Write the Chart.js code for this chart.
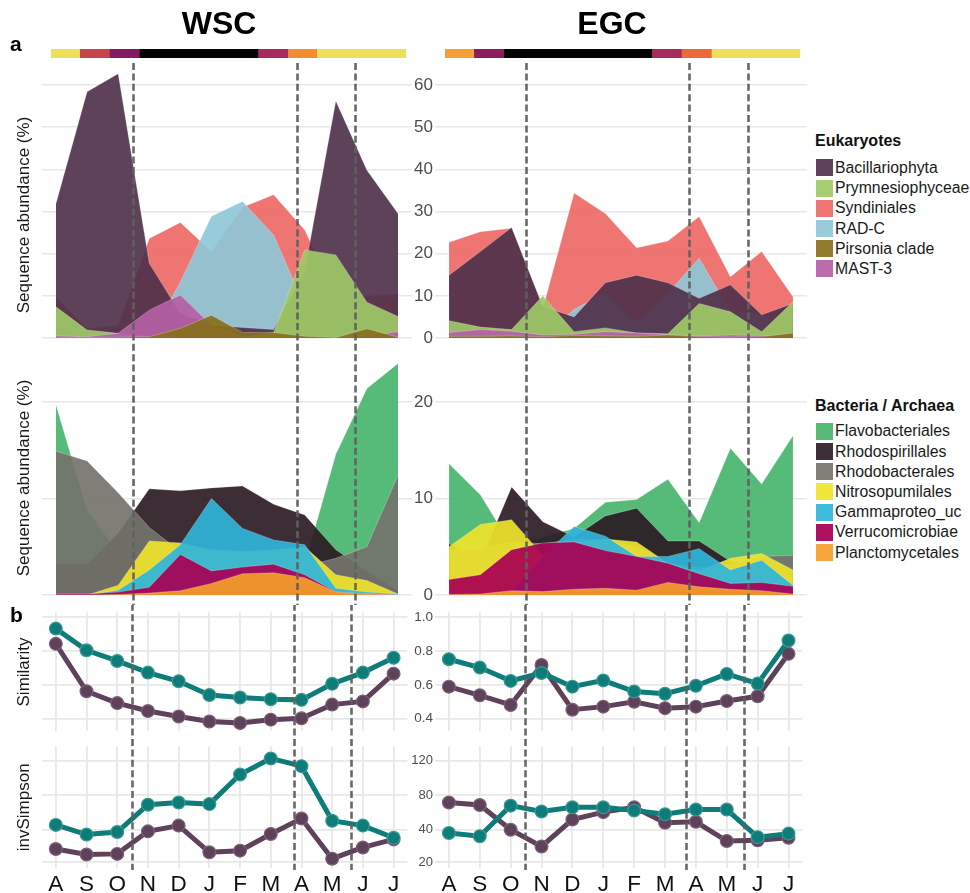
<!DOCTYPE html>
<html>
<head>
<meta charset="utf-8">
<script src="https://cdn.jsdelivr.net/npm/chart.js@4.4.1/dist/chart.umd.min.js"></script>
<style>
  html, body { margin: 0; padding: 0; background: #fff; }
  body { width: 970px; height: 893px; overflow: hidden; position: relative;
         font-family: "Liberation Sans", Arial, sans-serif; color: #1a1a1a; }
  canvas { position: absolute; }
  .lbl { position: absolute; line-height: 1; white-space: nowrap; }
  .bold { font-weight: bold; color: #000; }
  .key { position: absolute; width: 17px; height: 17px; }
</style>
</head>
<body>
<script>
// ---------- sampling months ----------
const months = ['A', 'S', 'O', 'N', 'D', 'J', 'F', 'M', 'A', 'M', 'J', 'J'];

// ---------- eukaryote taxa (sequence abundance, %) ----------
const eukTaxa = ['Bacillariophyta', 'Prymnesiophyceae', 'Syndiniales', 'RAD-C', 'Pirsonia clade', 'MAST-3'];

const wscBacillariophyta  = [31.9, 58.4, 62.7, 17.7, 5.8, 3.0, 2.5, 2.0, 16.0, 56.2, 39.8, 29.5];
const wscPrymnesiophyceae = [7.4, 1.9, 1.1, 0.4, 0.1, 0.1, 0.1, 1.3, 20.9, 19.7, 8.5, 5.1];
const wscSyndiniales      = [9.8, 2.3, 3.1, 23.6, 27.4, 20.5, 31.0, 34.0, 25.6, 10.0, 10.0, 10.5];
const wscRADC             = [0, 0, 0, 0, 13.3, 28.9, 32.4, 24.4, 7.5, 0.3, 0, 0];
const wscPirsonia         = [0.1, 0.1, 0.2, 0.3, 2.3, 5.4, 1.3, 1.3, 0.4, 0.1, 2.2, 0.2];
const wscMAST3            = [0.5, 0.3, 1.1, 6.6, 10.2, 3.0, 0.3, 0.2, 0.1, 0.1, 0.5, 1.5];

const egcBacillariophyta  = [14.9, 20.5, 26.2, 7.5, 5.0, 13.1, 14.9, 13.1, 9.4, 12.6, 5.5, 8.2];
const egcPrymnesiophyceae = [4.1, 2.6, 2.0, 10.0, 1.5, 2.4, 1.2, 1.0, 8.2, 6.2, 1.5, 8.6];
const egcSyndiniales      = [22.7, 25.2, 26.0, 7.0, 34.4, 29.5, 21.4, 23.0, 28.8, 14.5, 20.5, 9.8];
const egcRADC             = [0, 0, 0, 0, 6.8, 10.6, 3.5, 10.6, 18.9, 6.2, 5.5, 0.3];
const egcPirsonia         = [0.4, 0.4, 0.5, 0.3, 0.6, 0.5, 0.4, 0.7, 0.3, 0.2, 0.3, 1.2];
const egcMAST3            = [1.3, 2.0, 1.6, 0.7, 0.9, 1.5, 1.2, 0.8, 0.5, 0.7, 0.6, 0.4];

// ---------- bacteria / archaea taxa (sequence abundance, %) ----------
const bacTaxa = ['Flavobacteriales', 'Rhodospirillales', 'Rhodobacterales', 'Nitrosopumilales',
                 'Gammaproteo_uc', 'Verrucomicrobiae', 'Planctomycetales'];

const wscFlavobacteriales  = [19.7, 8.8, 4.4, 3.5, 2.5, 2.3, 2.2, 2.0, 3.2, 14.6, 21.4, 24.0];
const wscRhodospirillales  = [3.3, 3.3, 6.4, 11.0, 10.8, 11.1, 11.3, 9.4, 8.3, 4.7, 2.5, 0.5];
const wscRhodobacterales   = [14.9, 13.9, 10.6, 7.0, 4.5, 3.5, 3.2, 3.0, 3.0, 3.8, 5.0, 12.4];
const wscNitrosopumilales  = [0.0, 0.0, 1.0, 5.6, 5.4, 4.7, 4.5, 4.7, 5.0, 2.1, 1.5, 0.1];
const wscGammaproteo       = [0.0, 0.0, 0.5, 2.6, 5.2, 10.0, 6.9, 5.7, 5.2, 0.7, 0.3, 0.1];
const wscVerrucomicrobiae  = [0.1, 0.1, 0.3, 0.8, 4.2, 2.5, 2.9, 3.2, 2.1, 0.3, 0.1, 0.0];
const wscPlanctomycetales  = [0.0, 0.0, 0.05, 0.2, 0.45, 1.2, 2.2, 2.3, 1.8, 0.3, 0.1, 0.0];

const egcFlavobacteriales  = [13.6, 10.4, 5.1, 6.0, 6.9, 9.6, 9.9, 12.0, 7.5, 15.2, 11.5, 16.5];
const egcRhodospirillales  = [5.3, 3.5, 11.2, 7.6, 6.0, 8.2, 9.0, 5.6, 5.6, 3.5, 3.0, 2.0];
const egcRhodobacterales   = [4.6, 4.8, 5.5, 5.3, 5.8, 5.7, 5.0, 3.3, 2.8, 3.2, 4.0, 4.1];
const egcNitrosopumilales  = [5.0, 7.3, 7.8, 4.1, 5.5, 5.8, 5.5, 3.3, 2.5, 3.8, 4.3, 2.6];
const egcGammaproteo       = [0.0, 0.0, 0.5, 4.0, 7.1, 6.1, 4.0, 4.0, 4.8, 2.6, 3.6, 1.0];
const egcVerrucomicrobiae  = [1.6, 2.1, 4.7, 5.4, 5.5, 4.6, 4.0, 3.3, 2.2, 1.2, 1.3, 0.9];
const egcPlanctomycetales  = [0.05, 0.1, 0.45, 0.35, 0.6, 0.7, 0.5, 1.3, 0.85, 0.6, 0.45, 0.1];

// ---------- community similarity and inverse Simpson diversity ----------
const wscSimTeal   = [0.932, 0.804, 0.741, 0.672, 0.621, 0.540, 0.525, 0.515, 0.511, 0.606, 0.672, 0.760];
const wscSimPurple = [0.842, 0.562, 0.492, 0.445, 0.413, 0.383, 0.374, 0.394, 0.402, 0.483, 0.502, 0.666];
const egcSimTeal   = [0.751, 0.702, 0.623, 0.670, 0.589, 0.626, 0.560, 0.547, 0.594, 0.664, 0.607, 0.862];
const egcSimPurple = [0.589, 0.538, 0.481, 0.717, 0.453, 0.471, 0.500, 0.462, 0.471, 0.504, 0.532, 0.783];

const wscInvTeal   = [45.6, 37.0, 38.6, 68.9, 71.4, 69.6, 103.9, 122.7, 113.7, 50.3, 44.8, 35.0];
const wscInvPurple = [28.0, 24.6, 25.0, 39.0, 44.8, 26.0, 27.0, 37.4, 52.9, 22.0, 29.0, 34.0];
const egcInvTeal   = [38.0, 36.0, 67.8, 61.1, 65.9, 65.9, 62.2, 57.8, 63.3, 63.3, 35.4, 37.6];
const egcInvPurple = [71.4, 68.5, 40.0, 29.6, 51.8, 60.3, 65.9, 48.1, 49.2, 33.0, 33.4, 35.0];

// ---------- axis ticks ----------
const eukTicks = [0, 10, 20, 30, 40, 50, 60];
const bacTicks = [0, 10, 20];
const simTicks = [0.4, 0.6, 0.8, 1.0];
const invTicks = [20, 40, 80, 120];

// ---------- season bands (month index edges) and event dates ----------
const wscSeasonEdges  = [-0.16, 0.77, 1.73, 2.69, 6.51, 7.47, 8.4, 11.25];
const wscSeasonColors = ['#EDE15A', '#C9444C', '#861A61', '#050505', '#A82A5C', '#F38C2F', '#EDE15A'];
const egcSeasonEdges  = [-0.13, 0.80, 1.76, 6.5, 7.44, 8.4, 11.22];
const egcSeasonColors = ['#F5A034', '#8C1D5C', '#050505', '#A82A5C', '#EB693A', '#EDE15A'];
const wscEvents = [2.49, 7.76, 9.61];
const egcEvents = [2.46, 7.69, 9.57];

// ---------- styling ----------
const FONT = '"Liberation Sans", Arial, sans-serif';
Chart.defaults.font.family = FONT;
Chart.defaults.color = '#4d4d4d';

const taxonColor = {
  'Bacillariophyta': '#5E4259', 'Prymnesiophyceae': '#A6CD72', 'Syndiniales': '#EF7572',
  'RAD-C': '#98CCDA', 'Pirsonia clade': '#917B2E', 'MAST-3': '#BA6CAC',
  'Flavobacteriales': '#57BB78', 'Rhodospirillales': '#3E2E36', 'Rhodobacterales': '#7F7F77',
  'Nitrosopumilales': '#F0E63C', 'Gammaproteo_uc': '#40BBDE', 'Verrucomicrobiae': '#AF1062',
  'Planctomycetales': '#F5A53A'
};
// back-to-front layering of the overlapping areas
const eukLayering = ['Syndiniales', 'RAD-C', 'Bacillariophyta', 'Prymnesiophyceae', 'MAST-3', 'Pirsonia clade'];
const bacLayering = bacTaxa;

const TEAL = '#0E7C78', TEAL_RING = '#3A9994';
const PURPLE = '#5E4259', PURPLE_RING = '#7D6178';
const GRID = '#E8E8E8';

// colour that shows as `hex` on white when painted with opacity a
function seeThrough(hex, a) {
  const n = parseInt(hex.slice(1), 16);
  const ch = [(n >> 16) & 255, (n >> 8) & 255, n & 255].map(c => Math.max(0, Math.round((c - (1 - a) * 255) / a)));
  return `rgba(${ch[0]},${ch[1]},${ch[2]},${a})`;
}

// ---------- inverse Simpson axis: spacing follows the panel's gridlines ----------
const invKnots = [[20, 0], [40, 33.4], [80, 69.4], [120, 105]];
function warp(v) {
  const k = invKnots, n = k.length;
  let i = 1;
  while (i < n - 1 && v > k[i][0]) i++;
  const [a0, b0] = k[i - 1], [a1, b1] = k[i];
  return b0 + (v - a0) * (b1 - b0) / (a1 - a0);
}
function unwarp(w) {
  const k = invKnots, n = k.length;
  let i = 1;
  while (i < n - 1 && w > k[i][1]) i++;
  const [a0, b0] = k[i - 1], [a1, b1] = k[i];
  return a0 + (w - b0) * (a1 - a0) / (b1 - b0);
}
class WarpScale extends Chart.LinearScale {
  getPixelForValue(value) {
    const lo = warp(this.min), hi = warp(this.max);
    return this.getPixelForDecimal((warp(value) - lo) / (hi - lo));
  }
  getValueForPixel(pixel) {
    const lo = warp(this.min), hi = warp(this.max);
    return unwarp(lo + this.getDecimalForPixel(pixel) * (hi - lo));
  }
}
WarpScale.id = 'warp';
WarpScale.defaults = Chart.LinearScale.defaults;
Chart.register(WarpScale);

// ---------- plugins: season band and dashed event lines ----------
const seasonBand = {
  id: 'seasonBand',
  afterDraw(chart, args, o) {
    if (!o.edges) return;
    const ctx = chart.ctx, xs = chart.scales.x;
    ctx.save();
    for (let i = 0; i < o.colors.length; i++) {
      const x0 = xs.getPixelForValue(o.edges[i]), x1 = xs.getPixelForValue(o.edges[i + 1]);
      ctx.fillStyle = o.colors[i];
      ctx.fillRect(x0, o.y, x1 - x0 + 0.4, o.h);
    }
    ctx.restore();
  }
};
const eventLines = {
  id: 'eventLines',
  afterDatasetsDraw(chart, args, o) {
    if (!o.dates) return;
    const ctx = chart.ctx, xs = chart.scales.x;
    ctx.save();
    ctx.strokeStyle = 'rgba(96,96,96,0.95)';
    ctx.lineWidth = 2.6;
    ctx.setLineDash([7, 3.4]);
    ctx.lineDashOffset = o.offset;
    o.dates.forEach(d => {
      const x = Math.round(xs.getPixelForValue(d)) + 0.5;
      ctx.beginPath();
      ctx.moveTo(x, o.y0);
      ctx.lineTo(x, o.y1);
      ctx.stroke();
    });
    ctx.restore();
  }
};
Chart.register(seasonBand, eventLines);

// ---------- layout ----------
const COLS = {
  wsc: { left: 0,   width: 415, axisW: 42, padR: 3, events: wscEvents, edges: wscSeasonEdges, colors: wscSeasonColors, labels: false },
  egc: { left: 395, width: 415, axisW: 40, padR: 3, events: egcEvents, edges: egcSeasonEdges, colors: egcSeasonColors, labels: true }
};
const DASH_TOP = 63, DASH_BOTTOM = 870;

function addCanvas(left, top, w, h) {
  const c = document.createElement('canvas');
  c.width = w; c.height = h;
  c.style.left = left + 'px'; c.style.top = top + 'px';
  c.style.width = w + 'px'; c.style.height = h + 'px';
  document.body.appendChild(c);
  return c;
}
const fixedTicks = vals => scale => { scale.ticks = vals.map(v => ({ value: v })); };
const pts = arr => arr.map((v, i) => ({ x: i, y: v }));

function makePanel(col, row) {
  const C = COLS[col];
  const cv = addCanvas(C.left, row.top, C.width, row.height);
  const xAxis = {
    type: 'linear', min: -0.45, max: 11.45,
    display: row.xGrid ? true : false,
    afterBuildTicks: fixedTicks(months.map((m, i) => i)),
    afterFit: s => { s.height = row.xAxisH || 0; s.paddingLeft = 0; s.paddingRight = 0; },
    grid: { color: GRID, lineWidth: 1.8, drawTicks: false },
    border: { display: false },
    ticks: {
      display: !!row.xLabels, autoSkip: false, maxRotation: 0, padding: 3,
      color: '#111', font: { size: 22.5 },
      callback: v => months[Math.round(v)]
    }
  };
  const yAxis = {
    type: row.warp ? 'warp' : 'linear', min: row.yMin, max: row.yMax,
    afterBuildTicks: fixedTicks(row.ticks),
    afterFit: s => { s.width = C.axisW; s.paddingTop = 0; s.paddingBottom = 0; },
    grid: { color: GRID, lineWidth: row.gridW, drawTicks: false },
    border: { display: false },
    ticks: {
      display: C.labels, padding: 2, color: '#4d4d4d', font: { size: row.tickSize },
      callback: row.fmt || (v => String(v))
    },
    title: {
      display: !C.labels && !!row.title, text: row.title, color: '#1a1a1a',
      font: { size: 17 }, padding: { top: 14, bottom: 0 }
    }
  };
  const y0 = row.band ? DASH_TOP - row.top : 0;
  const y1 = Math.min(row.height, DASH_BOTTOM - row.top, row.dashEnd ? row.dashEnd - row.top : 1e9);
  return new Chart(cv, {
    type: 'line',
    data: { datasets: row.datasets(col) },
    options: {
      responsive: false, animation: false, events: [],
      layout: { padding: { top: row.padTop, bottom: row.padBottom || 0, left: 0, right: C.padR } },
      scales: { x: xAxis, y: yAxis },
      plugins: {
        legend: { display: false }, tooltip: { enabled: false },
        seasonBand: row.band ? { edges: C.edges, colors: C.colors, y: 49 - row.top, h: 9 } : {},
        eventLines: { dates: C.events, y0: y0, y1: y1, offset: Math.max(0, row.top - DASH_TOP) }
      }
    }
  });
}

function areaSets(layering, seriesByTaxon) {
  const n = layering.length;
  return layering.map((taxon, i) => ({
    label: taxon,
    data: pts(seriesByTaxon[taxon]),
    order: n - 1 - i,
    fill: 'origin',
    backgroundColor: seeThrough(taxonColor[taxon], 0.92),
    borderColor: 'rgba(255,255,255,0.4)',
    borderWidth: 0.6,
    pointRadius: 0,
    tension: 0
  }));
}
function lineSets(teal, purple) {
  const mk = (data, c, ring, order) => ({
    data: pts(data), order: order, borderColor: c, borderWidth: 5,
    pointRadius: 6.4, pointBackgroundColor: c, pointBorderColor: ring, pointBorderWidth: 1.2,
    tension: 0, fill: false, clip: false
  });
  return [mk(teal, TEAL, TEAL_RING, 0), mk(purple, PURPLE, PURPLE_RING, 1)];
}

const eukSeries = {
  wsc: { 'Bacillariophyta': wscBacillariophyta, 'Prymnesiophyceae': wscPrymnesiophyceae, 'Syndiniales': wscSyndiniales,
         'RAD-C': wscRADC, 'Pirsonia clade': wscPirsonia, 'MAST-3': wscMAST3 },
  egc: { 'Bacillariophyta': egcBacillariophyta, 'Prymnesiophyceae': egcPrymnesiophyceae, 'Syndiniales': egcSyndiniales,
         'RAD-C': egcRADC, 'Pirsonia clade': egcPirsonia, 'MAST-3': egcMAST3 }
};
const bacSeries = {
  wsc: { 'Flavobacteriales': wscFlavobacteriales, 'Rhodospirillales': wscRhodospirillales, 'Rhodobacterales': wscRhodobacterales,
         'Nitrosopumilales': wscNitrosopumilales, 'Gammaproteo_uc': wscGammaproteo, 'Verrucomicrobiae': wscVerrucomicrobiae,
         'Planctomycetales': wscPlanctomycetales },
  egc: { 'Flavobacteriales': egcFlavobacteriales, 'Rhodospirillales': egcRhodospirillales, 'Rhodobacterales': egcRhodobacterales,
         'Nitrosopumilales': egcNitrosopumilales, 'Gammaproteo_uc': egcGammaproteo, 'Verrucomicrobiae': egcVerrucomicrobiae,
         'Planctomycetales': egcPlanctomycetales }
};

const ROWS = [
  { name: 'euk', top: 40, height: 322, padTop: 30, padBottom: 2, yMin: -5.217, yMax: 63.56, ticks: eukTicks,
    tickSize: 17, gridW: 1.6, title: 'Sequence abundance (%)', band: true, dashEnd: 352,
    datasets: col => areaSets(eukLayering, eukSeries[col]) },
  { name: 'bac', top: 352, height: 253, padTop: 4, padBottom: 5, yMin: -0.518, yMax: 24.77, ticks: bacTicks,
    tickSize: 17, gridW: 1.6, title: 'Sequence abundance (%)',
    datasets: col => areaSets(bacLayering, bacSeries[col]) },
  { name: 'sim', top: 605, height: 134, padTop: 7, padBottom: 3, yMin: 0.3247, yMax: 1.0266, ticks: simTicks,
    tickSize: 13.5, gridW: 1.8, title: 'Similarity', xGrid: true, fmt: v => v.toFixed(1),
    datasets: col => col === 'wsc' ? lineSets(wscSimTeal, wscSimPurple) : lineSets(egcSimTeal, egcSimPurple) },
  { name: 'inv', top: 739, height: 154, padTop: 3, yMin: 16.23, yMax: 136.5, ticks: invTicks, warp: true,
    tickSize: 13, gridW: 1.8, title: 'invSimpson', xGrid: true, xLabels: true, xAxisH: 25,
    datasets: col => col === 'wsc' ? lineSets(wscInvTeal, wscInvPurple) : lineSets(egcInvTeal, egcInvPurple) }
];

ROWS.forEach(row => { makePanel('wsc', row); makePanel('egc', row); });

// ---------- headings and keys ----------
function addText(txt, left, baseline, size, cls, extra) {
  const d = document.createElement('div');
  d.className = 'lbl ' + (cls || '');
  d.textContent = txt;
  d.style.fontSize = size + 'px';
  d.style.left = left + 'px';
  d.style.top = (baseline - 0.8465 * size) + 'px';
  if (extra) Object.assign(d.style, extra);
  document.body.appendChild(d);
  return d;
}
addText('WSC', 119, 34, 32, 'bold', { width: '200px', textAlign: 'center' });
addText('EGC', 512, 34, 32, 'bold', { width: '200px', textAlign: 'center' });
addText('a', 10, 51, 21, 'bold');
addText('b', 10, 622, 21, 'bold');

function addKey(title, taxa, titleCenter, firstTop) {
  addText(title, 815, titleCenter + 0.358 * 16, 16, 'bold', { color: '#111' });
  taxa.forEach((t, i) => {
    const top = firstTop + i * 20.2;
    const sw = document.createElement('div');
    sw.className = 'key';
    sw.style.left = '816px'; sw.style.top = top + 'px';
    sw.style.background = taxonColor[t];
    document.body.appendChild(sw);
    addText(t, 835, top + 8.5 + 0.358 * 15.8, 15.8, '', { color: '#1a1a1a' });
  });
}
addKey('Eukaryotes', eukTaxa, 141, 159.3);
addKey('Bacteria / Archaea', bacTaxa, 406, 422.7);
</script>
</body>
</html>
